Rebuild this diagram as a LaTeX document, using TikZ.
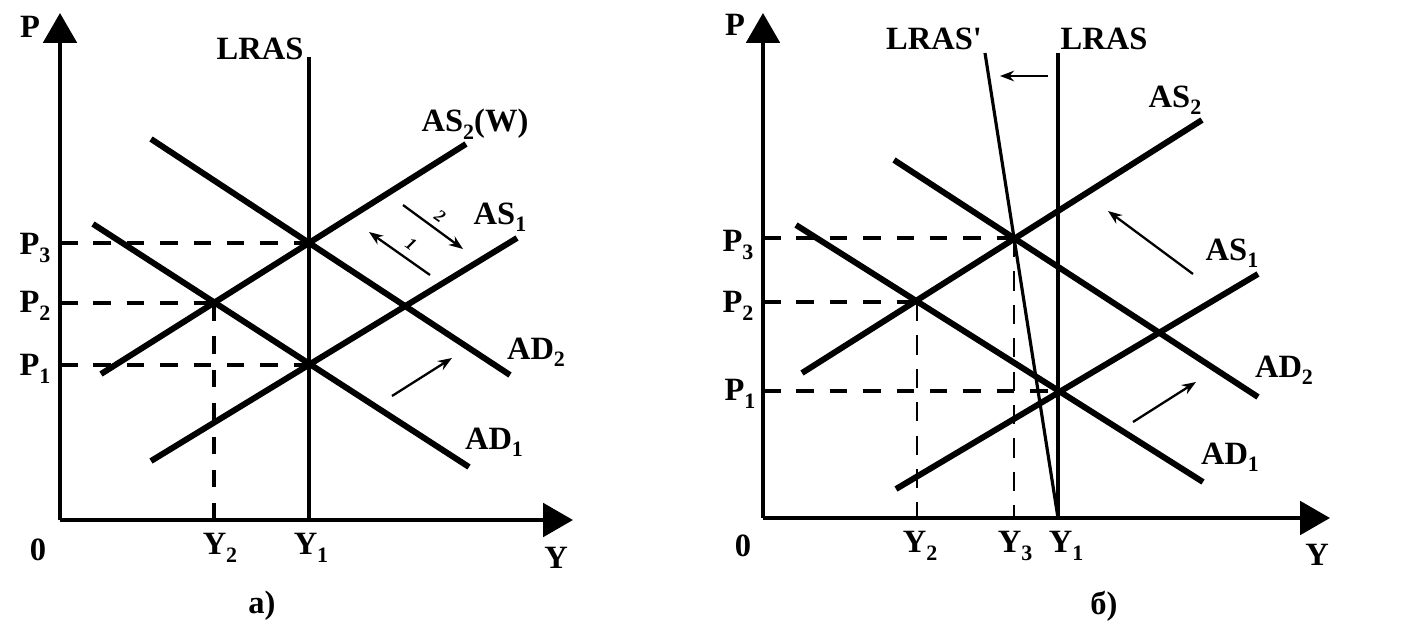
\documentclass[tikz,border=0pt]{standalone}
\usepackage{fontspec}
\setmainfont{Liberation Serif}
\usetikzlibrary{arrows.meta}
\newcommand\lowidx[1]{\raisebox{-0.5ex}{\fontsize{12.5}{12.5}\selectfont #1}}
\begin{document}
\begin{tikzpicture}[x=0.02cm,y=-0.02cm,
 lbl/.style={font=\fontsize{18.5}{20}\selectfont\bfseries, inner sep=0pt},
 curve/.style={line width=3.4pt},
 axis/.style={line width=2.2pt, -{Triangle[length=17pt,width=19pt]}},
 lras/.style={line width=1.8pt},
 guide/.style={line width=2pt, dash pattern=on 10pt off 9pt},
 thinguide/.style={line width=1.1pt, dash pattern=on 11pt off 8pt},
 shiftarrow/.style={line width=1.3pt, -{Stealth[length=8pt,width=6pt]}},
 num/.style={font=\fontsize{10}{10}\selectfont\bfseries\itshape, inner sep=0pt}]
\useasboundingbox (0,0) rectangle (1428,636);

% ---------- panel a ----------
\coordinate (Oa) at (60,520);
\coordinate (Pa) at (60,13);
\coordinate (Ya) at (573,520);
\coordinate (LRta) at (309,57);
\coordinate (Y1a) at (309,520);
\coordinate (E1a) at (309,365);
\coordinate (E2a) at (214,303);
\coordinate (E3a) at (309,243);
\coordinate (P1a) at (60,365);
\coordinate (P2a) at (60,303);
\coordinate (P3a) at (60,243);
\coordinate (Y2a) at (214,520);

\draw[axis] (Oa) -- (Pa);
\draw[axis] (Oa) -- (Ya);
\draw[lras] (LRta) -- (Y1a);

\coordinate (AD2a1) at (151,139); \coordinate (AD2a2) at (510,375);
\coordinate (AD1a1) at (93,224);  \coordinate (AD1a2) at (469,467);
\coordinate (AS2a1) at (101,374); \coordinate (AS2a2) at (466,144);
\coordinate (AS1a1) at (151,461); \coordinate (AS1a2) at (517,238);
\draw[curve] (AD2a1) -- (AD2a2);
\draw[curve] (AD1a1) -- (AD1a2);
\draw[curve] (AS2a1) -- (AS2a2);
\draw[curve] (AS1a1) -- (AS1a2);

\draw[guide] (P3a) -- (E3a);
\draw[guide] (P2a) -- (E2a);
\draw[guide] (P1a) -- (E1a);
\draw[guide] (E2a) -- (Y2a);

\coordinate (s1a) at (430,275); \coordinate (s1b) at (369,232);
\coordinate (s2a) at (403,205); \coordinate (s2b) at (463,249);
\coordinate (s3a) at (392,396); \coordinate (s3b) at (452,358);
\draw[shiftarrow] (s1a) -- (s1b);
\draw[shiftarrow] (s2a) -- (s2b);
\draw[shiftarrow] (s3a) -- (s3b);
\node[num, rotate=-35] (n1) at (411,244) {1};
\node[num, rotate=-35] (n2) at (440,216) {2};

\node[lbl] (La) at (30,27) {P};
\node[lbl] (LRASa) at (260,49) {LRAS};
\node[lbl] (AS2la) at (475,124) {AS\lowidx{2}(W)};
\node[lbl] (AS1la) at (500,217) {AS\lowidx{1}};
\node[lbl] (AD2la) at (536,352) {AD\lowidx{2}};
\node[lbl] (AD1la) at (494,442) {AD\lowidx{1}};
\node[lbl] (P3la) at (35,248) {P\lowidx{3}};
\node[lbl] (P2la) at (35,306) {P\lowidx{2}};
\node[lbl] (P1la) at (35,369) {P\lowidx{1}};
\node[lbl] (Z0a) at (38,550) {0};
\node[lbl] (Y2la) at (220,548) {Y\lowidx{2}};
\node[lbl] (Y1la) at (311,548) {Y\lowidx{1}};
\node[lbl] (Yla) at (556,558) {Y};
\node[lbl] (capa) at (262,606) {a)};

% ---------- panel b ----------
\coordinate (Ob) at (763,518);
\coordinate (Pb) at (763,13);
\coordinate (Yb) at (1330,518);
\coordinate (LRtb) at (1058,53);
\coordinate (Y1b) at (1058,518);
\coordinate (LRpt) at (985,53);
\coordinate (E1b) at (1058,391);
\coordinate (E2b) at (917,302);
\coordinate (E3b) at (1014,238);
\coordinate (P1b) at (763,391);
\coordinate (P2b) at (763,302);
\coordinate (P3b) at (763,238);
\coordinate (Y2b) at (917,518);
\coordinate (Y3b) at (1014,518);

\draw[axis] (Ob) -- (Pb);
\draw[axis] (Ob) -- (Yb);
\draw[lras] (LRtb) -- (Y1b);
\draw[lras] (LRpt) -- (Y1b);

\coordinate (AD2b1) at (894,160);  \coordinate (AD2b2) at (1258,397);
\coordinate (AD1b1) at (796,225);  \coordinate (AD1b2) at (1203,482);
\coordinate (AS2b1) at (802,373);  \coordinate (AS2b2) at (1202,120);
\coordinate (AS1b1) at (896,489);  \coordinate (AS1b2) at (1258,274);
\draw[curve] (AD2b1) -- (AD2b2);
\draw[curve] (AD1b1) -- (AD1b2);
\draw[curve] (AS2b1) -- (AS2b2);
\draw[curve] (AS1b1) -- (AS1b2);

\draw[guide] (P3b) -- (E3b);
\draw[guide] (P2b) -- (E2b);
\draw[guide] (P1b) -- (E1b);
\draw[thinguide] (E2b) -- (Y2b);
\draw[thinguide] (E3b) -- (Y3b);

\coordinate (t1a) at (1048,76);  \coordinate (t1b) at (1000,76);
\coordinate (t2a) at (1193,274); \coordinate (t2b) at (1108,211);
\coordinate (t3a) at (1133,422); \coordinate (t3b) at (1196,382);
\draw[shiftarrow] (t1a) -- (t1b);
\draw[shiftarrow] (t2a) -- (t2b);
\draw[shiftarrow] (t3a) -- (t3b);

\node[lbl] (Lb) at (735,25) {P};
\node[lbl] (LRASpb) at (934,39) {LRAS\textquotesingle};
\node[lbl] (LRASb) at (1104,39) {LRAS};
\node[lbl] (AS2lb) at (1175,100) {AS\lowidx{2}};
\node[lbl] (AS1lb) at (1232,253) {AS\lowidx{1}};
\node[lbl] (AD2lb) at (1284,370) {AD\lowidx{2}};
\node[lbl] (AD1lb) at (1230,457) {AD\lowidx{1}};
\node[lbl] (P3lb) at (738,245) {P\lowidx{3}};
\node[lbl] (P2lb) at (738,306) {P\lowidx{2}};
\node[lbl] (P1lb) at (740,394) {P\lowidx{1}};
\node[lbl] (Z0b) at (743,546) {0};
\node[lbl] (Y2lb) at (920,546) {Y\lowidx{2}};
\node[lbl] (Y3lb) at (1015,546) {Y\lowidx{3}};
\node[lbl] (Y1lb) at (1066,546) {Y\lowidx{1}};
\node[lbl] (Ylb) at (1317,555) {Y};
\node[lbl] (capb) at (1104,606) {б)};
\end{tikzpicture}
\end{document}
